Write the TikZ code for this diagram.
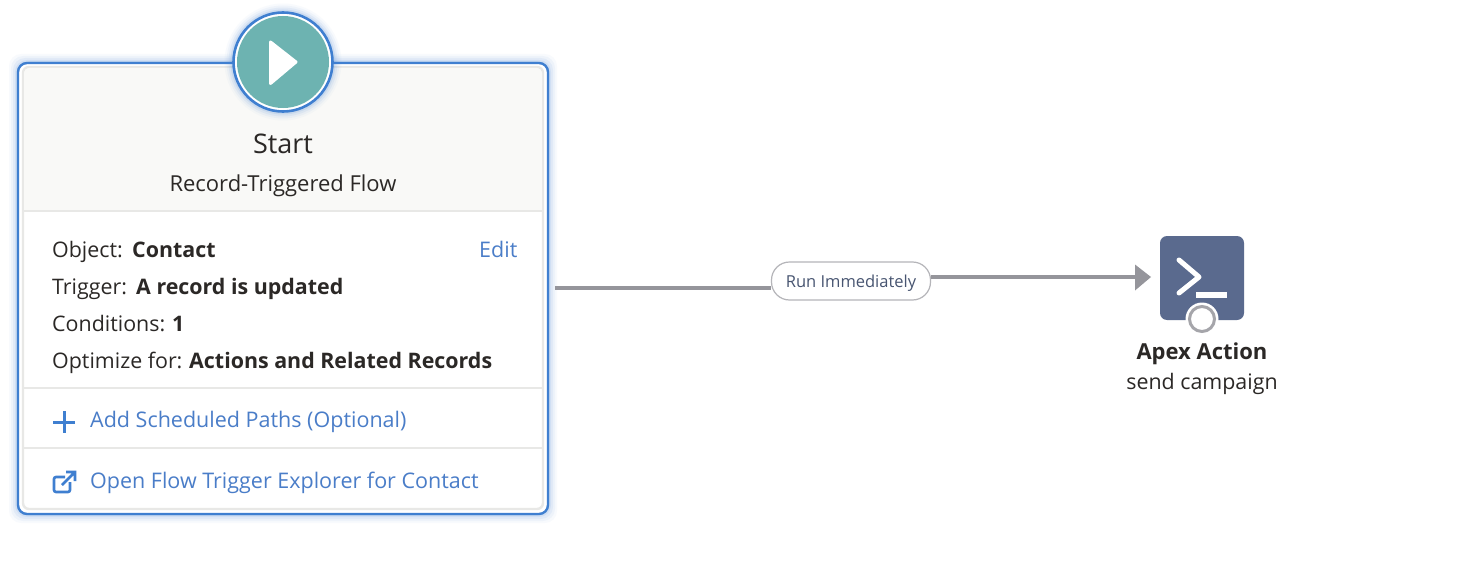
\documentclass[tikz,border=0pt]{standalone}
\usepackage{fontspec}
\setmainfont{Open Sans}
\usetikzlibrary{arrows.meta,calc,positioning}
\definecolor{focusblue}{HTML}{3F7FD0}
\definecolor{linkblue}{HTML}{4A7DC8}
\definecolor{startteal}{HTML}{6DB3B1}
\definecolor{apexblue}{HTML}{5A6A8E}
\definecolor{linegray}{HTML}{95959B}
\definecolor{sepgray}{HTML}{E8E8E6}
\definecolor{headfill}{HTML}{F9F9F7}
\definecolor{inktext}{HTML}{2B2826}
\tikzset{
  txt/.style={inner sep=0pt,anchor=base west,text=inktext,font=\fontsize{21.4}{26}\selectfont},
  bld/.style={txt,font=\fontsize{21.4}{26}\selectfont\bfseries},
  mid/.style={txt,anchor=base},
  lnk/.style={txt,text=linkblue,font=\fontsize{21.5}{26}\selectfont},
  sep/.style={draw=sepgray,line width=1.2pt},
  wire/.style={draw=linegray,line width=3.6pt},
}
\begin{document}
\begin{tikzpicture}[x=1pt,y=-1pt]
  \useasboundingbox (0,0) rectangle (1468,586);
  \fill[white] (0,0) rectangle (1468,586);
  % card glow
  \foreach \g/\o in {9/0.03,7/0.05,5/0.07,3/0.1,1.5/0.15} {
    \fill[focusblue,opacity=\o,rounded corners=12pt] (18-\g,63-\g) rectangle (548+\g,514+\g);
  }
  \draw[focusblue,line width=2.4pt,fill=white,rounded corners=9pt] (18,63) rectangle (548,514);
  \draw[sepgray,line width=2.4pt,fill=white,rounded corners=6pt] (23,67) rectangle (543,509);
  \fill[headfill,rounded corners=5pt] (24,68) rectangle (542,90);
  \fill[headfill] (24,80) rectangle (542,211);
  \draw[sep] (24,211) -- (542,211);
  \draw[sep] (24,388) -- (542,388);
  \draw[sep] (24,448) -- (542,448);
  % start button
  \foreach \g/\o in {8/0.03,6/0.05,4/0.08,2/0.12} {
    \fill[focusblue,opacity=\o] (283,62) circle (50.5+\g);
  }
  \node[circle,draw=focusblue,line width=2.6pt,fill=white,minimum size=99pt,inner sep=0pt] (startring) at (283,62) {};
  \node[circle,fill=startteal,minimum size=92pt,inner sep=0pt] (startdot) at (283,62) {};
  \fill[white,draw=white,line width=3pt,line join=round] (270.5,42) -- (296,62) -- (270.5,83.5) -- cycle;
  % header text
  \node[mid,font=\fontsize{27}{30}\selectfont] (starttitle) at (283,153) {Start};
  \node[mid,font=\fontsize{22}{26}\selectfont] (starttype) at (283,191) {Record-Triggered Flow};
  % details
  \node[txt] (objkey) at (52,257) {Object:};
  \node[bld] (objval) at (132,257) {Contact};
  \node[lnk] (editlink) at (479,257) {Edit};
  \node[txt] (trigkey) at (52,294) {Trigger:};
  \node[bld] (trigval) at (136,294) {A record is updated};
  \node[txt] (condkey) at (52,331) {Conditions:};
  \node[bld] (condval) at (172,331) {1};
  \node[txt] (optkey) at (52,368) {Optimize for:};
  \node[bld] (optval) at (189,368) {Actions and Related Records};
  % links
  \draw[focusblue,line width=3pt] (53,422) -- (75,422) (64,411) -- (64,433);
  \node[lnk] (addlink) at (90,427) {Add Scheduled Paths (Optional)};
  \draw[focusblue,line width=2.6pt,rounded corners=2pt] (65,477) -- (54,477) -- (54,492) -- (70,492) -- (70,482);
  \draw[focusblue,line width=2.6pt] (62,485) -- (74,473) (66,472) -- (75,472) -- (75,481);
  \node[lnk] (openlink) at (90,488) {Open Flow Trigger Explorer for Contact};
  % apex action
  \node[fill=apexblue,rounded corners=7pt,minimum size=84pt,inner sep=0pt] (apex) at (1202,278) {};
  \draw[white,line width=5pt,line cap=round,line join=round] (1179,260) -- (1199,277) -- (1179,293);
  \draw[white,line width=5.5pt] (1196,295) -- (1227,295);
  \node[circle,fill=white,minimum size=33pt,inner sep=0pt] (apexnotch) at (1202,319) {};
  \node[circle,draw=linegray!85,line width=3pt,fill=white,minimum size=25pt,inner sep=0pt] (apexport) at (1202,319) {};
  \node[mid,font=\fontsize{22}{26}\selectfont\bfseries] (apextitle) at (1202,359) {Apex Action};
  \node[mid] (apexname) at (1202,389.5) {send campaign};
  % connector
  \coordinate (cardout) at (555,288);
  \node[draw=linegray!70,line width=1.2pt,fill=white,rounded corners=18pt,minimum width=159pt,minimum height=38pt,inner sep=0pt] (runpill) at (851,281) {};
  \node[inner sep=0pt,text=apexblue!80!black,font=\fontsize{16.5}{20}\selectfont] (runtext) at (851,283) {Run Immediately};
  \draw[wire] (cardout) -- (cardout -| runpill.west);
  \coordinate (pillout) at (runpill.east |- 0,277);
  \coordinate (apexin) at (1151,277);
  \draw[wire] (pillout) -- (1137,277);
  \fill[linegray] (1135,264.5) -- (apexin) -- (1135,290.5) -- cycle;
\end{tikzpicture}
\end{document}
